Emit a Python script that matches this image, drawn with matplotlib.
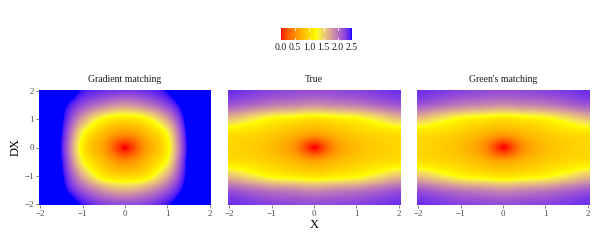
import numpy as np
import matplotlib
matplotlib.use("Agg")
import matplotlib.pyplot as plt
from matplotlib.colors import ListedColormap

plt.rcParams["font.family"] = ["Liberation Serif", "DejaVu Serif"]

# grid positions (columns = X from -2 to 2, rows = DX from 2 down to -2)
x_vals = [-2.0, -1.5, -1.0, -0.5, 0.0, 0.5, 1.0, 1.5, 2.0]
dx_vals = [2.0, 1.5, 1.0, 0.5, 0.0, -0.5, -1.0, -1.5, -2.0]

panel_titles = ["Gradient matching", "True", "Green's matching"]

# values
grad_field = [
    [3.0, 2.8, 2.45, 2.35, 2.3, 2.35, 2.5, 2.9, 3.0],
    [3.0, 2.6, 2.2, 1.95, 1.8, 1.95, 2.25, 2.7, 3.0],
    [3.0, 2.55, 1.75, 1.2, 1.05, 1.2, 1.75, 2.65, 3.0],
    [3.0, 2.5, 1.3, 0.8, 0.55, 0.8, 1.3, 2.6, 3.0],
    [3.0, 2.45, 1.12, 0.6, 0.0, 0.6, 1.15, 2.55, 3.0],
    [3.0, 2.5, 1.3, 0.8, 0.5, 0.8, 1.3, 2.6, 3.0],
    [3.0, 2.55, 1.7, 1.1, 0.97, 1.1, 1.7, 2.6, 3.0],
    [3.0, 2.6, 2.15, 1.8, 1.65, 1.8, 2.15, 2.65, 3.0],
    [3.0, 2.75, 2.45, 2.25, 2.2, 2.25, 2.45, 2.75, 3.0],
]

true_field = [
    [2.35, 2.3, 2.25, 2.22, 2.2, 2.22, 2.25, 2.3, 2.35],
    [2.15, 2.05, 1.95, 1.9, 1.85, 1.9, 1.95, 2.05, 2.15],
    [1.57, 1.38, 1.2, 1.12, 1.05, 1.12, 1.2, 1.38, 1.57],
    [1.05, 1.0, 0.92, 0.78, 0.65, 0.78, 0.92, 1.0, 1.05],
    [0.98, 0.92, 0.8, 0.55, 0.0, 0.55, 0.8, 0.92, 0.98],
    [1.05, 1.0, 0.92, 0.78, 0.65, 0.78, 0.92, 1.0, 1.05],
    [1.57, 1.38, 1.2, 1.12, 1.05, 1.12, 1.2, 1.38, 1.57],
    [2.15, 2.05, 1.95, 1.9, 1.85, 1.9, 1.95, 2.05, 2.15],
    [2.35, 2.3, 2.25, 2.22, 2.2, 2.22, 2.25, 2.3, 2.35],
]

green_field = [
    [2.35, 2.3, 2.25, 2.22, 2.2, 2.22, 2.25, 2.3, 2.35],
    [2.15, 2.05, 1.95, 1.9, 1.85, 1.9, 1.95, 2.05, 2.15],
    [1.57, 1.38, 1.2, 1.12, 1.05, 1.12, 1.2, 1.38, 1.57],
    [1.05, 1.0, 0.92, 0.78, 0.65, 0.78, 0.92, 1.0, 1.05],
    [0.98, 0.92, 0.8, 0.55, 0.0, 0.55, 0.8, 0.92, 0.98],
    [1.05, 1.0, 0.92, 0.78, 0.65, 0.78, 0.92, 1.0, 1.05],
    [1.57, 1.38, 1.2, 1.12, 1.05, 1.12, 1.2, 1.38, 1.57],
    [2.15, 2.05, 1.95, 1.9, 1.85, 1.9, 1.95, 2.05, 2.15],
    [2.35, 2.3, 2.25, 2.22, 2.2, 2.22, 2.25, 2.3, 2.35],
]

cbar_ticks = [0.0, 0.5, 1.0, 1.5, 2.0, 2.5]


# ---- red -> yellow -> blue ramp interpolated in CIELAB (like ggplot) ----
def srgb_to_lab(rgb):
    c = np.asarray(rgb, float)
    c = np.where(c <= 0.04045, c / 12.92, ((c + 0.055) / 1.055) ** 2.4)
    m = np.array([[0.4124, 0.3576, 0.1805],
                  [0.2126, 0.7152, 0.0722],
                  [0.0193, 0.1192, 0.9505]])
    xyz = m @ c / np.array([0.95047, 1.0, 1.08883])
    f = np.where(xyz > 0.008856, np.cbrt(xyz), 7.787 * xyz + 16 / 116)
    return np.array([116 * f[1] - 16, 500 * (f[0] - f[1]), 200 * (f[1] - f[2])])


def lab_to_srgb(lab):
    L, a, b = lab
    fy = (L + 16) / 116
    fx = fy + a / 500
    fz = fy - b / 200
    f = np.array([fx, fy, fz])
    xyz = np.where(f ** 3 > 0.008856, f ** 3, (f - 16 / 116) / 7.787)
    xyz = xyz * np.array([0.95047, 1.0, 1.08883])
    m = np.array([[3.2406, -1.5372, -0.4986],
                  [-0.9689, 1.8758, 0.0415],
                  [0.0557, -0.2040, 1.0570]])
    c = m @ xyz
    c = np.where(c <= 0.0031308, 12.92 * c, 1.055 * np.clip(c, 0, None) ** (1 / 2.4) - 0.055)
    return np.clip(c, 0, 1)


anchors = [srgb_to_lab(c) for c in ([1, 0, 0], [1, 1, 0], [0, 0, 1])]
ramp = []
for t in np.linspace(0, 1, 256):
    if t <= 0.5:
        s = t / 0.5
        lab = anchors[0] * (1 - s) + anchors[1] * s
    else:
        s = (t - 0.5) / 0.5
        lab = anchors[1] * (1 - s) + anchors[2] * s
    ramp.append(lab_to_srgb(lab))
cmap = ListedColormap(ramp)

VMIN, VMAX = 0.0, 2.5

# ---- figure ----
fig = plt.figure(figsize=(6, 2.4), dpi=100)
fields = [grad_field, true_field, green_field]
lefts = [39 / 600, 228 / 600, 417 / 600]
# cells centred on the grid points
hx = (x_vals[1] - x_vals[0]) / 2
hy = (dx_vals[0] - dx_vals[1]) / 2
extent = [x_vals[0] - hx, x_vals[-1] + hx, dx_vals[-1] - hy, dx_vals[0] + hy]
lim = 2.03

im = None
for i, (field, title) in enumerate(zip(fields, panel_titles)):
    ax = fig.add_axes([lefts[i], 1 - 205 / 240, 172 / 600, 115 / 240])
    im = ax.imshow(np.array(field), cmap=cmap, vmin=VMIN, vmax=VMAX,
                   extent=extent, aspect="auto", interpolation="catrom",
                   interpolation_stage="data", origin="upper")
    ax.set_xlim(-lim, lim)
    ax.set_ylim(-lim, lim)
    ax.set_title(title, fontsize=7, pad=6, color="#1a1a1a")
    for s in ax.spines.values():
        s.set_visible(False)
    ax.set_xticks([-2, -1, 0, 1, 2])
    ax.tick_params(axis="both", labelsize=6.5, colors="#4d4d4d",
                   length=2, width=0.5, pad=1.5)
    if i == 0:
        ax.set_yticks([-2, -1, 0, 1, 2])
        ax.set_ylabel("DX", fontsize=9, labelpad=2)
    else:
        ax.set_yticks([])
    if i == 1:
        ax.set_xlabel("X", fontsize=9, labelpad=1)

cax = fig.add_axes([281 / 600, 1 - 40 / 240, 71 / 600, 12 / 240])
cb = fig.colorbar(im, cax=cax, orientation="horizontal", ticks=cbar_ticks)
cb.outline.set_visible(False)
cb.ax.tick_params(labelsize=7, length=0, pad=2, colors="#1a1a1a")
cb.ax.set_xticklabels([f"{t:.1f}" for t in cbar_ticks])
for t in cbar_ticks[1:-1]:
    cax.axvline(t, ymin=0, ymax=0.2, color="white", lw=0.6)
    cax.axvline(t, ymin=0.8, ymax=1, color="white", lw=0.6)

fig.savefig("out.png", dpi=100)
